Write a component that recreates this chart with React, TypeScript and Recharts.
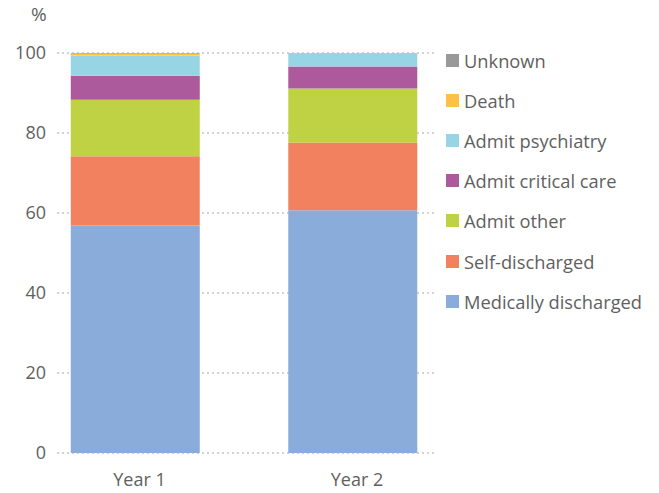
import { Bar, BarChart, CartesianGrid, XAxis, YAxis } from "recharts";

const FONT = "'Open Sans', sans-serif";
const INK = "#5f5f5f";
const GRID = "#a6a6a6";

const years = [1, 2];
const medically = [56.9, 60.7];
const selfDischarged = [17.3, 16.9];
const admitOther = [14.1, 13.5];
const criticalCare = [6.0, 5.5];
const psychiatry = [5.1, 3.3];
const death = [0.45, 0.05];
const unknown = [0.15, 0.05];

const yTicks = [0, 20, 40, 60, 80, 100];

const series = [
  { key: "medically", name: "Medically discharged", color: "#8AACDA", values: medically },
  { key: "self", name: "Self-discharged", color: "#F2825F", values: selfDischarged },
  { key: "other", name: "Admit other", color: "#BFD243", values: admitOther },
  { key: "critical", name: "Admit critical care", color: "#AD5A9C", values: criticalCare },
  { key: "psych", name: "Admit psychiatry", color: "#98D5E4", values: psychiatry },
  { key: "death", name: "Death", color: "#FFC145", values: death },
  { key: "unknown", name: "Unknown", color: "#999999", values: unknown },
];

const data = years.map((year, i) => {
  const row: Record<string, number> = { year };
  series.forEach((s) => (row[s.key] = s.values[i]));
  return row;
});

export default function App() {
  return (
    <div style={{ position: "absolute", left: 0, top: 0, width: 659, height: 493, background: "#fff", fontFamily: FONT }}>
      <div style={{ position: "absolute", left: 31, top: 1, fontSize: 19, color: INK }}>%</div>
      <BarChart width={659} height={493} data={data} margin={{ top: 53, right: 222, bottom: 0, left: 0 }}>
        <CartesianGrid stroke={GRID} strokeDasharray="2 3" vertical={false} />
        <XAxis
          type="number"
          dataKey="year"
          domain={[0.639, 2.386]}
          ticks={years}
          allowDataOverflow
          tickFormatter={(v) => `Year ${v}`}
          tick={{ fill: INK, fontSize: 18, fontFamily: FONT, dx: 4 }}
          tickLine={false}
          axisLine={false}
          tickSize={0}
          tickMargin={20}
          height={40}
        />
        <YAxis
          domain={[0, 100]}
          ticks={yTicks}
          tick={{ fill: INK, fontSize: 18, fontFamily: FONT }}
          tickLine={false}
          axisLine={false}
          tickSize={0}
          tickMargin={11}
          width={57}
        />
        {series.map((s) => (
          <Bar key={s.key} dataKey={s.key} stackId="a" fill={s.color} barSize={129} isAnimationActive={false} />
        ))}
      </BarChart>
      <div style={{ position: "absolute", left: 446, top: 40 }}>
        {[...series].reverse().map((s) => (
          <div key={s.key} style={{ display: "flex", alignItems: "center", height: 40.2, fontSize: 18.3, color: INK }}>
            <span style={{ width: 13, height: 13, background: s.color, marginRight: 5, display: "inline-block" }} />
            {s.name}
          </div>
        ))}
      </div>
    </div>
  );
}
